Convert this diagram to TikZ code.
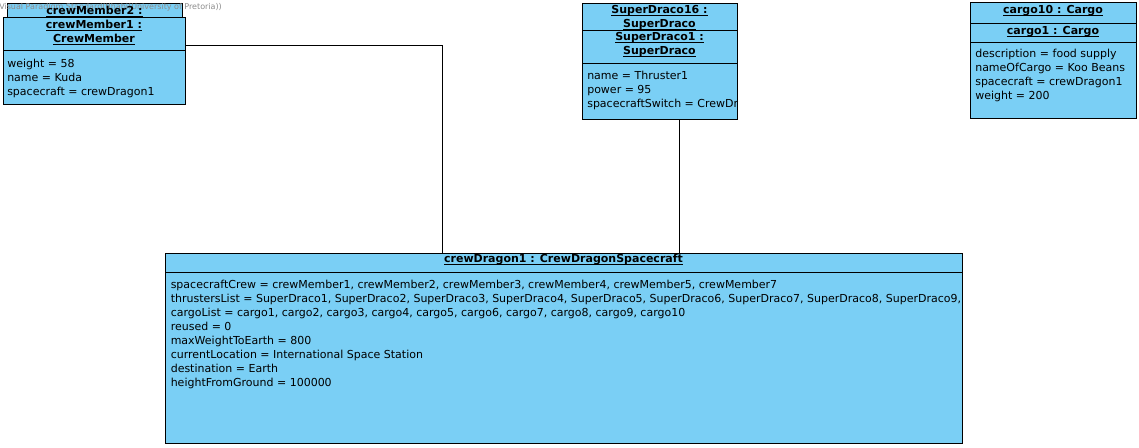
\documentclass[tikz,border=0pt]{standalone}
\usepackage{fontspec}
\setmainfont{DejaVu Sans}
\usetikzlibrary{calc}
\definecolor{vpblue}{RGB}{122,207,245}
\definecolor{vpgray}{RGB}{140,140,140}
\newcommand{\vpuline}[1]{\underline{\smash{#1}}}
\tikzset{
  objbox/.style 2 args={draw=black,fill=vpblue,line width=0.75pt,anchor=north west,inner sep=0pt,minimum width=#1*0.75pt,minimum height=#2*0.75pt},
  header/.style={font=\bfseries\fontsize{8.25}{10.5}\selectfont,anchor=base,align=center,inner sep=0pt},
  attrs/.style={font=\fontsize{8.25}{10.5}\selectfont,anchor=base west,align=left,inner sep=0pt},
  divider/.style={draw=black,line width=0.75pt},
  link/.style={draw=black,line width=0.75pt},
  watermark/.style={font=\fontsize{6}{7}\selectfont,text=vpgray,anchor=base west,inner sep=0pt},
}

\begin{document}
\begin{tikzpicture}[x=0.75pt,y=-0.75pt]
  \useasboundingbox (0,0) rectangle (1139,447);

  % crew members
  \node[objbox={175}{20}] (crewMember2) at (7,3) {};
  \node[objbox={182}{87}] (crewMember1) at (3,17) {};
  \draw[divider] (crewMember1.west |- 0,50) -- (crewMember1.east |- 0,50);

  % thrusters
  \node[objbox={155}{27}] (superDraco16) at (582,3) {};
  \node[objbox={155}{89}] (superDraco1) at (582,30) {};
  \draw[divider] (superDraco1.west |- 0,63) -- (superDraco1.east |- 0,63);

  % cargo
  \node[objbox={166}{21}] (cargo10) at (970,2) {};
  \node[objbox={166}{95}] (cargo1) at (970,23) {};
  \draw[divider] (cargo1.west |- 0,42) -- (cargo1.east |- 0,42);

  % spacecraft
  \node[objbox={797}{190}] (crewDragon1) at (165,253) {};
  \draw[divider] (crewDragon1.west |- 0,272) -- (crewDragon1.east |- 0,272);

  \node[watermark] (vpmark) at (-1,9.5) {Visual Paradigm Standard(tlhabi(University of Pretoria))};

  % multi-line nodes sit on their last baseline
  \node[header] (crewMember2-title) at (94.5,14) {\vpuline{crewMember2 :}};
  \node[header] (crewMember1-title) at (94,42) {\vpuline{crewMember1 :}\\\vpuline{CrewMember}};
  \node[attrs] (crewMember1-attrs) at (7,95) {weight = 58\\name = Kuda\\spacecraft = crewDragon1};

  \node[header] (superDraco16-title) at (659.5,27.5) {\vpuline{SuperDraco16 :}\\\vpuline{SuperDraco}};
  \node[header] (superDraco1-title) at (659.5,54) {\vpuline{SuperDraco1 :}\\\vpuline{SuperDraco}};
  \begin{scope}
    \clip (superDraco1.north west) rectangle (superDraco1.south east);
    \node[attrs] (superDraco1-attrs) at (587,107) {name = Thruster1\\power = 95\\spacecraftSwitch = CrewDr};
  \end{scope}

  \node[header] (cargo10-title) at (1053,13) {\vpuline{cargo10 : Cargo}};
  \node[header] (cargo1-title) at (1053,34) {\vpuline{cargo1 : Cargo}};
  \node[attrs] (cargo1-attrs) at (975,99.5) {description = food supply\\nameOfCargo = Koo Beans\\spacecraft = crewDragon1\\weight = 200};

  \node[header] (crewDragon1-title) at (563.5,262) {\vpuline{crewDragon1 : CrewDragonSpacecraft}};
  \begin{scope}
    \clip (crewDragon1.north west) rectangle (crewDragon1.south east);
    \node[attrs] (crewDragon1-attrs) at (170.5,386) {spacecraftCrew = crewMember1, crewMember2, crewMember3, crewMember4, crewMember5, crewMember7\\
      thrustersList = SuperDraco1, SuperDraco2, SuperDraco3, SuperDraco4, SuperDraco5, SuperDraco6, SuperDraco7, SuperDraco8, SuperDraco9,\\
      cargoList = cargo1, cargo2, cargo3, cargo4, cargo5, cargo6, cargo7, cargo8, cargo9, cargo10\\
      reused = 0\\
      maxWeightToEarth = 800\\
      currentLocation = International Space Station\\
      destination = Earth\\
      heightFromGround = 100000};
  \end{scope}

  % links
  \draw[link] (crewMember1.east |- 0,45) -| (crewDragon1.north -| 442,0);
  \draw[link] (superDraco1.south -| 679,0) -- (crewDragon1.north -| 679,0);
\end{tikzpicture}
\end{document}
